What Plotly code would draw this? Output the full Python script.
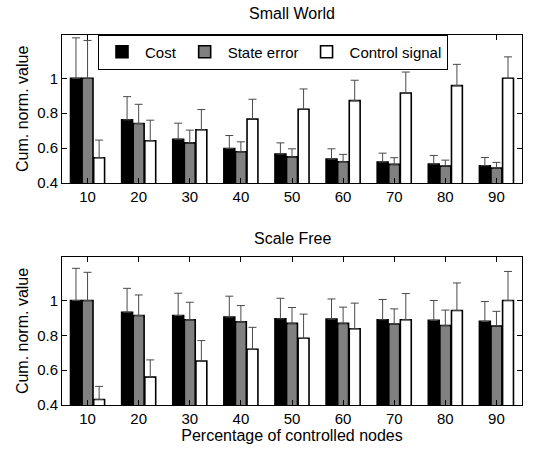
import plotly.graph_objects as go
from plotly.subplots import make_subplots

pct = [10, 20, 30, 40, 50, 60, 70, 80, 90]
series_names = ["Cost", "State error", "Control signal"]

# Small World: bar values and error-bar tops
sw_cost = [1.0, 0.762, 0.651, 0.598, 0.566, 0.537, 0.520, 0.509, 0.499]
sw_cost_top = [1.232, 0.895, 0.743, 0.672, 0.630, 0.596, 0.571, 0.558, 0.546]
sw_state = [1.0, 0.741, 0.630, 0.579, 0.550, 0.522, 0.507, 0.497, 0.485]
sw_state_top = [1.217, 0.851, 0.703, 0.636, 0.596, 0.564, 0.545, 0.531, 0.518]
sw_ctrl = [0.545, 0.642, 0.705, 0.766, 0.823, 0.872, 0.916, 0.958, 1.0]
sw_ctrl_top = [0.646, 0.760, 0.821, 0.880, 0.939, 0.989, 1.036, 1.080, 1.123]

# Scale Free
sf_cost = [1.0, 0.933, 0.914, 0.905, 0.895, 0.893, 0.890, 0.886, 0.880]
sf_cost_top = [1.185, 1.070, 1.042, 1.025, 1.013, 1.009, 1.006, 1.000, 0.994]
sf_state = [1.0, 0.914, 0.890, 0.878, 0.869, 0.869, 0.865, 0.857, 0.853]
sf_state_top = [1.162, 1.032, 0.990, 0.971, 0.960, 0.962, 0.952, 0.945, 0.938]
sf_ctrl = [0.432, 0.560, 0.653, 0.720, 0.783, 0.838, 0.890, 0.943, 1.0]
sf_ctrl_top = [0.507, 0.659, 0.770, 0.846, 0.922, 0.985, 1.040, 1.101, 1.167]

y_ticks = [0.4, 0.6, 0.8, 1.0]
y_tick_text = ["0.4", "0.6", "0.8", "1"]

colors = ["#000000", "#808080", "#ffffff"]
FONT = "Liberation Sans, Arial, sans-serif"

fig = make_subplots(rows=2, cols=1, subplot_titles=("Small World", "Scale Free"))

panels = [
    (1, [sw_cost, sw_state, sw_ctrl], [sw_cost_top, sw_state_top, sw_ctrl_top]),
    (2, [sf_cost, sf_state, sf_ctrl], [sf_cost_top, sf_state_top, sf_ctrl_top]),
]
for row, vals, tops in panels:
    for i, (name, v, t) in enumerate(zip(series_names, vals, tops)):
        fig.add_trace(
            go.Bar(
                x=pct, y=v, name=name, showlegend=(row == 1),
                marker=dict(color=colors[i], line=dict(color="black", width=1.6)),
                error_y=dict(type="data", symmetric=False,
                             array=[a - b for a, b in zip(t, v)],
                             arrayminus=[0] * len(v),
                             color="#4a4a4a", thickness=1, width=4),
            ),
            row=row, col=1,
        )

axis_common = dict(showline=True, linecolor="black", linewidth=1, mirror="ticks",
                   ticks="inside", ticklen=5, tickcolor="black", showgrid=False,
                   zeroline=False, automargin=False,
                   tickfont=dict(size=15, color="black"))

xdom = [62 / 550, 522 / 550]
fig.update_layout(
    width=550, height=453,
    margin=dict(l=0, r=0, t=0, b=0),
    paper_bgcolor="white", plot_bgcolor="white",
    font=dict(family=FONT, size=15, color="black"),
    barmode="group", bargap=0.32, bargroupgap=0.06,
    xaxis=dict(domain=xdom, range=[5, 95], tickvals=pct, **axis_common),
    xaxis2=dict(domain=xdom, range=[5, 95], tickvals=pct,
                title=dict(text="Percentage of controlled nodes", standoff=0,
                           font=dict(size=16)), **axis_common),
    yaxis=dict(domain=[(453 - 183) / 453, (453 - 34.7) / 453], range=[0.4, 1.25],
               tickvals=y_ticks, ticktext=y_tick_text,
               title=dict(text="Cum. norm. value", standoff=4, font=dict(size=16)),
               **axis_common),
    yaxis2=dict(domain=[(453 - 405) / 453, (453 - 257) / 453], range=[0.4, 1.25],
                tickvals=y_ticks, ticktext=y_tick_text,
                title=dict(text="Cum. norm. value", standoff=4, font=dict(size=16)),
                **axis_common),
    legend=dict(orientation="h", x=98 / 550, y=(453 - 34.5) / 453,
                xanchor="left", yanchor="top",
                bgcolor="white", bordercolor="black", borderwidth=1,
                font=dict(size=15), itemwidth=36, traceorder="normal",
                tracegroupgap=0),
)

# position subplot titles
for ann, ypx in zip(fig.layout.annotations, [13, 238]):
    ann.update(y=(453 - ypx) / 453, yanchor="middle", font=dict(size=16, color="black"),
               x=(xdom[0] + xdom[1]) / 2)

fig.write_html("out.html")
